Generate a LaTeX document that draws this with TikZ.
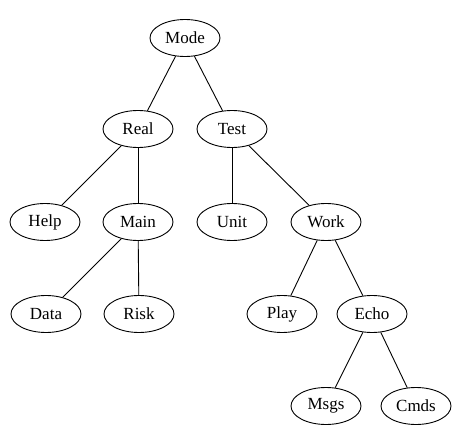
\documentclass[tikz,border=0pt]{standalone}
\usepackage{fontspec}
\setmainfont{Liberation Serif}
\usetikzlibrary{shapes.geometric}
\begin{document}
\begin{tikzpicture}[x=1pt,y=-1pt,
  leaf/.style={ellipse,draw,line width=0.9pt,minimum width=70pt,minimum height=37pt,
    inner sep=0pt,font=\fontsize{17}{20}\selectfont},
  link/.style={line width=0.9pt}]
\useasboundingbox (0,0) rectangle (452,425);
% tree nodes, one row per level
\node[leaf] (mode) at (185,38) {Mode};
\node[leaf] (real) at (138,129) {Real};
\node[leaf] (test) at (232,129) {Test};
\node[leaf] (help) at (45,222) {Help};
\node[leaf] (main) at (138,222) {Main};
\node[leaf] (unit) at (232,222) {Unit};
\node[leaf] (work) at (326,222) {Work};
\node[leaf] (data) at (46,314) {Data};
\node[leaf] (risk) at (139,314) {Risk};
\node[leaf] (play) at (282,314) {Play};
\node[leaf] (echo) at (372,314) {Echo};
\node[leaf] (msgs) at (326,406) {Msgs};
\node[leaf] (cmds) at (416,406) {Cmds};
% parent-child links
\draw[link] (mode) -- (real);
\draw[link] (mode) -- (test);
\draw[link] (real) -- (help);
\draw[link] (real) -- (main);
\draw[link] (test) -- (unit);
\draw[link] (test) -- (work);
\draw[link] (main) -- (data);
\draw[link] (main) -- (risk);
\draw[link] (work) -- (play);
\draw[link] (work) -- (echo);
\draw[link] (echo) -- (msgs);
\draw[link] (echo) -- (cmds);
\end{tikzpicture}
\end{document}
